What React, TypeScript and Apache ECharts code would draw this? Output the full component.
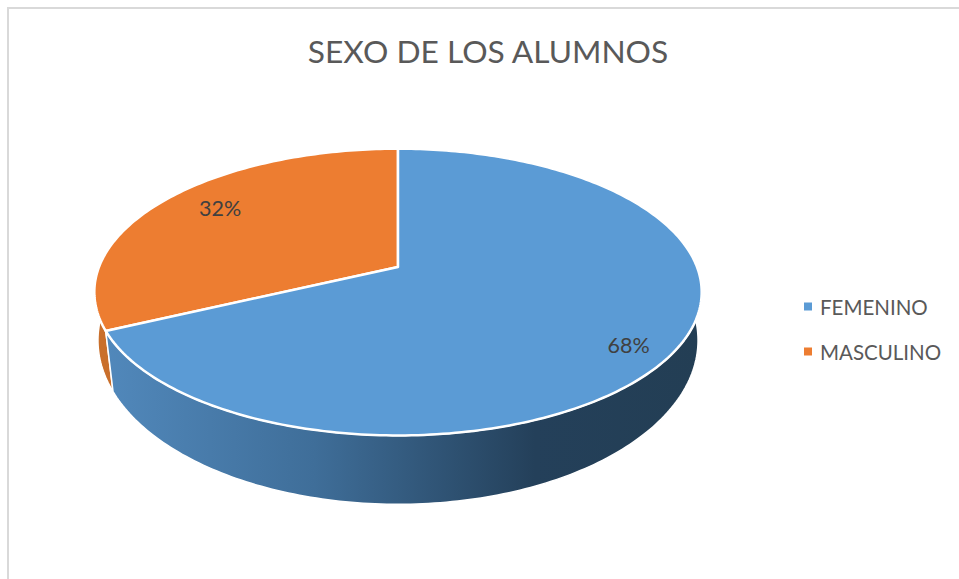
import React, { useEffect, useRef } from "react";
import * as echarts from "echarts";

const categories = ["FEMENINO", "MASCULINO"];
const values = [68, 32];
const titleText = "SEXO DE LOS ALUMNOS";

const FONT = "Lato, 'Open Sans', sans-serif";
const cx = 398;
const cy = 267;
const R = 299;
const B = 139;
const K = 0.1748;
const wallDy = 52;
const wallR = 297.5;
const wallB = 161.2;
const wallK = 0.13;
const total = values.reduce((a, b) => a + b, 0);

const rad = (d: number) => (d * Math.PI) / 180;
const top = (deg: number, r = 1): number[] => {
  const X = Math.sin(rad(deg)) * r;
  const Y = -Math.cos(rad(deg)) * r;
  const s = 1 / (1 - K * Y);
  return [cx + R * X * s, cy + B * Y * s];
};
const bottom = (deg: number): number[] => {
  const X = Math.sin(rad(deg));
  const Y = -Math.cos(rad(deg));
  const s = 1 / (1 - wallK * Y);
  return [cx + wallR * X * s, cy + wallDy + wallB * Y * s];
};
const arcPts = (f: (d: number) => number[], a: number, b: number) => {
  const n = Math.max(2, Math.ceil(Math.abs(b - a)));
  const out: number[][] = [];
  for (let i = 0; i <= n; i++) out.push(f(a + ((b - a) * i) / n));
  return out;
};

const seriesLook = [
  {
    color: "#5B9BD5",
    wallFrom: 70,
    wall: new echarts.graphic.LinearGradient(0, 0, 1, 0, [
      { offset: 0, color: "#5188bb" },
      { offset: 0.35, color: "#3f6e99" },
      { offset: 0.72, color: "#24405a" },
      { offset: 1, color: "#233e54" },
    ]),
    labelR: 0.845,
    labelDy: 10,
  },
  { color: "#ED7D31", wallFrom: null, wall: "#c96f2b", labelR: 0.75, labelDy: -7 },
];

const startAngles = values.map((_, i) =>
  (values.slice(0, i).reduce((a, b) => a + b, 0) / total) * 360
);

const makeSeries = (i: number) => ({
  type: "custom",
  name: categories[i],
  coordinateSystem: "none",
  silent: true,
  itemStyle: { color: seriesLook[i].color },
  data: [values[i]],
  renderItem: (_: any, api: any) => {
    const look = seriesLook[i];
    const a0 = startAngles[i];
    const a1 = a0 + (api.value(0) / total) * 360;
    const wa = i === 0 ? (look.wallFrom as number) : a0;
    const wb = i === 0 ? a1 : a0 + 40;
    const wallPts = [...arcPts(top, wa, wb), ...arcPts(bottom, wb, wa)];
    const facePts = [[cx, cy], ...arcPts(top, a0, a1)];
    const mid = top((a0 + a1) / 2, look.labelR);
    return {
      type: "group",
      children: [
        {
          type: "polygon",
          shape: { points: wallPts },
          style: { fill: look.wall, stroke: "#ffffff", lineWidth: 1.5, lineJoin: "round" },
        },
        {
          type: "polygon",
          shape: { points: facePts },
          style: { fill: look.color, stroke: "#ffffff", lineWidth: 2.5, lineJoin: "round" },
        },
        {
          type: "text",
          x: mid[0] - 1,
          y: mid[1] + look.labelDy,
          style: {
            text: `${Math.round((api.value(0) / total) * 100)}%`,
            fill: "#404040",
            font: `21.5px ${FONT}`,
            align: "center",
            verticalAlign: "middle",
          },
        },
      ],
    };
  },
});

export default function App() {
  const ref = useRef<HTMLDivElement>(null);
  useEffect(() => {
    const chart = echarts.init(ref.current!, null, { renderer: "svg" });
    chart.setOption({
      animation: false,
      backgroundColor: "#ffffff",
      title: {
        text: titleText,
        left: 483,
        top: 30,
        textAlign: "center",
        textStyle: { color: "#595959", fontFamily: FONT, fontSize: 31.7, fontWeight: "normal" },
      },
      legend: {
        orient: "vertical",
        left: 799,
        top: 291,
        data: categories,
        icon: "rect",
        itemWidth: 8,
        itemHeight: 8,
        itemGap: 24,
        textStyle: { color: "#595959", fontFamily: FONT, fontSize: 20.5, padding: [0, 0, 0, 3] },
      },
      graphic: [
        { type: "line", shape: { x1: 8, y1: 7, x2: 8, y2: 579 }, style: { stroke: "#d9d9d9", lineWidth: 2 } },
        { type: "line", shape: { x1: 7, y1: 8, x2: 959, y2: 8 }, style: { stroke: "#d9d9d9", lineWidth: 2 } },
      ],
      series: [makeSeries(1), makeSeries(0)],
    });
    return () => chart.dispose();
  }, []);
  return <div ref={ref} style={{ position: "absolute", left: 0, top: 0, width: 959, height: 579 }} />;
}
